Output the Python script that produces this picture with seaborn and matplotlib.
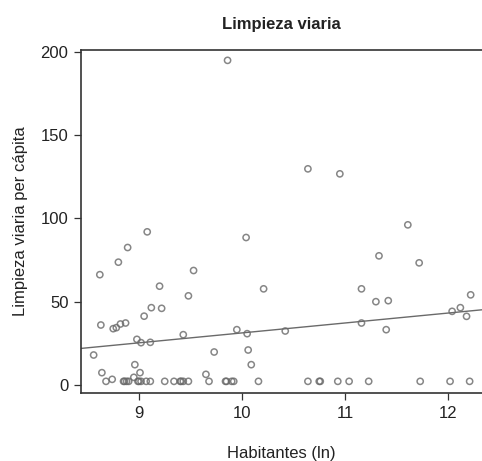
import matplotlib
matplotlib.use("Agg")
import matplotlib.pyplot as plt
import seaborn as sns
import pandas as pd

# Municipal street-cleaning spending per capita vs. log population
habitantes_ln = [
    9.86, 10.64, 10.95,
    9.08, 10.04, 8.89, 8.80, 8.62, 9.53, 9.20, 10.21, 9.48, 9.12, 9.22, 9.05,
    8.63, 8.75, 8.78, 8.82, 8.87, 9.95, 10.05, 9.43, 8.98, 9.02, 9.11, 8.56,
    9.73, 10.06, 10.09, 8.96, 8.64, 9.01, 8.95, 9.65, 8.74,
    11.61, 11.33, 11.72, 11.16, 11.30, 11.42, 12.22, 12.12, 12.04, 12.18,
    11.16, 11.40, 10.42,
    # municipalities at (near) zero spending
    8.68, 8.85, 8.86, 8.88, 8.90, 8.99, 9.00, 9.02, 9.07, 9.11, 9.25, 9.34,
    9.40, 9.41, 9.43, 9.48, 9.68, 9.84, 9.85, 9.90, 9.92, 10.16,
    10.64, 10.75, 10.76, 10.93, 11.04, 11.23, 11.73, 12.02, 12.21,
]
limpieza_pc = [
    194.8, 129.7, 126.7,
    91.9, 88.5, 82.5, 73.7, 66.2, 68.7, 59.3, 57.7, 53.5, 46.4, 46.0, 41.3,
    36.0, 33.8, 34.4, 36.6, 37.2, 33.2, 30.8, 30.2, 27.4, 25.4, 25.6, 18.0,
    19.8, 21.0, 12.2, 12.2, 7.4, 7.4, 4.6, 6.4, 3.4,
    96.1, 77.5, 73.3, 57.7, 50.0, 50.6, 54.1, 46.4, 44.2, 41.2,
    37.2, 33.2, 32.4,
    2.2, 2.2, 2.2, 2.2, 2.2, 2.2, 2.2, 2.2, 2.2, 2.2, 2.2, 2.2,
    2.2, 2.2, 2.2, 2.2, 2.2, 2.2, 2.2, 2.2, 2.2, 2.2,
    2.2, 2.2, 2.2, 2.2, 2.2, 2.2, 2.2, 2.2, 2.2,
]
x_ticks = [9, 10, 11, 12]
y_ticks = [0, 50, 100, 150, 200]

df = pd.DataFrame({"Habitantes (ln)": habitantes_ln,
                   "Limpieza viaria per cápita": limpieza_pc})

sns.set_theme(style="ticks")
plt.rcParams["font.family"] = ["Liberation Sans", "DejaVu Sans"]

fig = plt.figure(figsize=(4.82, 4.61), dpi=100)
ax = fig.add_axes([0.168, 0.1475, 0.832, 0.744])

sns.regplot(
    data=df, x="Habitantes (ln)", y="Limpieza viaria per cápita", ax=ax,
    ci=None, truncate=False,
    scatter_kws=dict(s=20, facecolors="none", edgecolors="#686868", linewidths=1.1),
    line_kws=dict(color="#6a6a6a", linewidth=1.0),
)

ax.set_xlim(8.437, 12.33)
ax.set_ylim(-4.8, 201)
ax.set_xticks(x_ticks)
ax.set_yticks(y_ticks)
ax.tick_params(axis="both", direction="out", length=5, width=0.9, colors="#333333",
               labelsize=12, labelcolor="#222222", pad=4)
for side in ["left", "bottom", "top"]:
    ax.spines[side].set_color("#333333")
    ax.spines[side].set_linewidth(1.2)
    ax.spines[side].set_visible(True)
ax.spines["right"].set_visible(False)

ax.set_xlabel("Habitantes (ln)", fontsize=12, color="#222222", labelpad=18)
ax.set_ylabel("Limpieza viaria per cápita", fontsize=12, color="#222222", labelpad=9)
ax.set_title("Limpieza viaria", fontsize=12, fontweight="bold", color="#222222", pad=15)

fig.savefig("out.png", dpi=100)
